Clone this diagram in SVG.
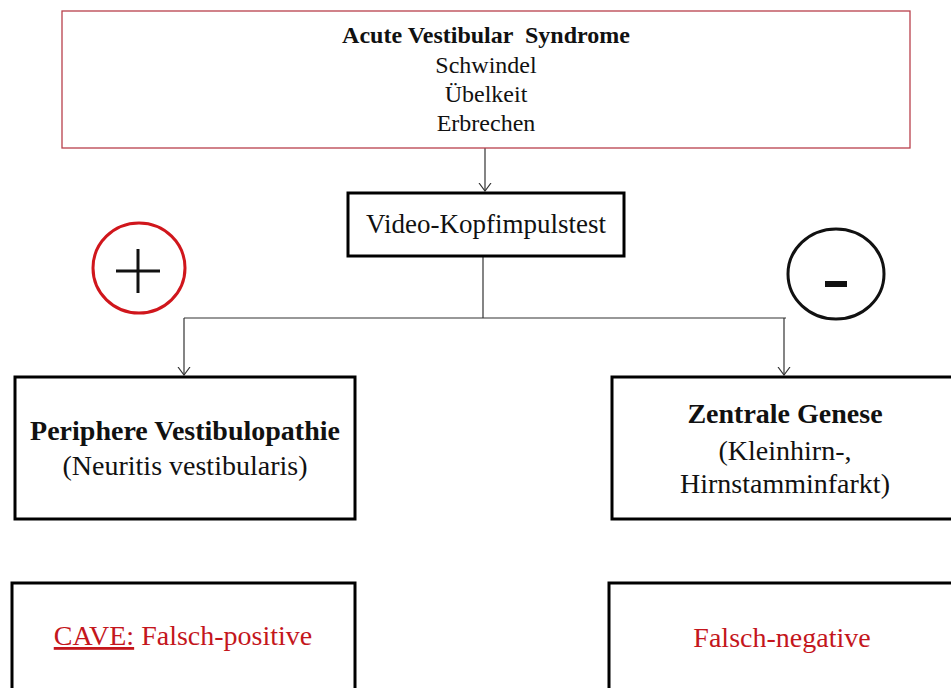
<svg xmlns="http://www.w3.org/2000/svg" width="951" height="688" viewBox="0 0 951 688">
<style>
text{font-family:"Liberation Serif","Times New Roman",serif;text-anchor:middle;fill:#111}
.box{fill:#fff;stroke:#000;stroke-width:3}
.conn{fill:none;stroke:#333;stroke-width:1.2}
.red{fill:#c4161c}
.b{font-weight:bold}
</style>
<defs>
<marker id="arr" viewBox="0 0 10 14" refX="8" refY="7" markerWidth="10" markerHeight="14" markerUnits="userSpaceOnUse" orient="auto">
<path d="M0,1 L8,7 L0,13" fill="none" stroke="#333" stroke-width="1.2"/>
</marker>
</defs>
<rect width="951" height="688" fill="#fff"/>
<g id="connectors">
<line class="conn" x1="485" y1="148" x2="485" y2="191" marker-end="url(#arr)"/>
<path class="conn" d="M483,256 V318"/>
<path class="conn" d="M184,318 H786"/>
<line class="conn" x1="184" y1="318" x2="184" y2="375" marker-end="url(#arr)"/>
<line class="conn" x1="784" y1="318" x2="784" y2="375" marker-end="url(#arr)"/>
</g>
<g id="n-acute">
<rect x="62" y="11" width="848" height="137" fill="#fff" stroke="#b8404c" stroke-width="1.3"/>
<text x="486" y="43" font-size="24" class="b" xml:space="preserve">Acute Vestibular  Syndrome</text>
<text x="486" y="73" font-size="24">Schwindel</text>
<text x="486" y="102" font-size="24">Übelkeit</text>
<text x="486" y="131" font-size="24">Erbrechen</text>
</g>
<g id="n-video">
<rect class="box" x="348" y="193" width="276" height="63"/>
<text x="486" y="233" font-size="27">Video-Kopfimpulstest</text>
</g>
<g id="n-plus">
<ellipse cx="139" cy="268" rx="46" ry="45" fill="none" stroke="#d0161c" stroke-width="3"/>
<line x1="116" y1="271" x2="160" y2="271" stroke="#111" stroke-width="3"/>
<line x1="138" y1="249" x2="138" y2="293" stroke="#111" stroke-width="3"/>
</g>
<g id="n-minus">
<ellipse cx="836" cy="274" rx="48" ry="45" fill="none" stroke="#111" stroke-width="3"/>
<rect x="825" y="281" width="22" height="6" fill="#111"/>
</g>
<g id="n-peripher">
<rect class="box" x="15" y="377" width="340" height="142"/>
<text x="185" y="440" font-size="28" class="b">Periphere Vestibulopathie</text>
<text x="185" y="475" font-size="28">(Neuritis vestibularis)</text>
</g>
<g id="n-zentral">
<rect class="box" x="612" y="377" width="350" height="142"/>
<text x="785" y="423" font-size="28" class="b">Zentrale Genese</text>
<text x="785" y="460" font-size="28">(Kleinhirn-,</text>
<text x="785" y="493" font-size="28">Hirnstamminfarkt)</text>
</g>
<g id="n-falschpos">
<rect class="box" x="12" y="583" width="343" height="120"/>
<text x="183" y="645" font-size="28" class="red"><tspan text-decoration="underline">CAVE:</tspan> Falsch-positive</text>
</g>
<g id="n-falschneg">
<rect class="box" x="609" y="583" width="353" height="120"/>
<text x="782" y="647" font-size="28" class="red">Falsch-negative</text>
</g>
</svg>
